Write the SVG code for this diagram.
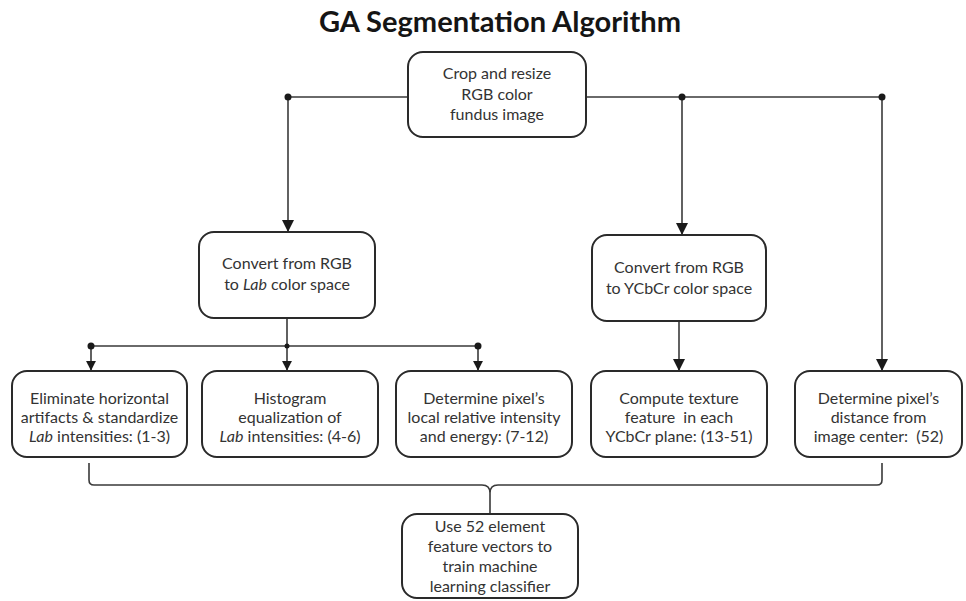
<svg xmlns="http://www.w3.org/2000/svg" width="966" height="601" viewBox="0 0 966 601">
<style>
.box{fill:#fff;stroke:#2a2a2a;stroke-width:2}
.t{font-family:Lato,"Open Sans","Liberation Sans",sans-serif;font-size:16px;fill:#333;text-anchor:middle}
.title{font-family:Lato,"Open Sans","Liberation Sans",sans-serif;font-size:28px;font-weight:bold;fill:#151515;text-anchor:middle}
.ln{fill:none;stroke:#3a3a3a;stroke-width:1.6}
.dot{fill:#1a1a1a}
</style>
<defs>
<marker id="arr" viewBox="0 0 12 12" refX="11" refY="6" markerWidth="12" markerHeight="12" markerUnits="userSpaceOnUse" orient="auto">
<path d="M0,0 L12,6 L0,12 Z" fill="#1a1a1a"/>
</marker>
<marker id="arrs" viewBox="0 0 12 12" refX="11" refY="6" markerWidth="10" markerHeight="11" markerUnits="userSpaceOnUse" orient="auto">
<path d="M0,0 L12,6 L0,12 Z" fill="#1a1a1a"/>
</marker>
</defs>
<text class="title" x="500" y="32" textLength="362" lengthAdjust="spacingAndGlyphs">GA Segmentation Algorithm</text>
<g id="connectors">
<path class="ln" d="M288,97 H408 M586,97 H882"/>
<path class="ln" d="M288,97 V231" marker-end="url(#arr)"/>
<path class="ln" d="M682,97 V234" marker-end="url(#arr)"/>
<path class="ln" d="M882,97 V370" marker-end="url(#arr)"/>
<circle class="dot" cx="288" cy="97" r="3.5"/>
<circle class="dot" cx="682" cy="97" r="3.5"/>
<circle class="dot" cx="882" cy="97" r="3.5"/>
<path class="ln" d="M287,318 V346 M91,346 H478"/>
<path class="ln" d="M91,346 V370" marker-end="url(#arrs)"/>
<path class="ln" d="M287,346 V370" marker-end="url(#arrs)"/>
<path class="ln" d="M478,346 V370" marker-end="url(#arrs)"/>
<circle class="dot" cx="91" cy="346" r="3.5"/>
<circle class="dot" cx="287" cy="346" r="2.5"/>
<circle class="dot" cx="478" cy="346" r="3.5"/>
<path class="ln" d="M679,321 V370" marker-end="url(#arr)"/>
<path class="ln" d="M89,463 V480 Q89,485 94,485 H482 Q490,485 490,493 M882,463 V480 Q882,485 877,485 H498 Q490,485 490,493 V514"/>
</g>
<g id="crop">
<rect class="box" x="408" y="52" width="178" height="85" rx="15"/>
<text class="t" x="497" y="79">Crop and resize</text>
<text class="t" x="497" y="100">RGB color</text>
<text class="t" x="497" y="120">fundus image</text>
</g>
<g id="lab">
<rect class="box" x="199" y="232" width="176" height="86" rx="15"/>
<text class="t" x="287" y="269">Convert from RGB</text>
<text class="t" x="287" y="290">to <tspan font-style="italic">Lab</tspan> color space</text>
</g>
<g id="ycbcr">
<rect class="box" x="592" y="235" width="174" height="86" rx="15"/>
<text class="t" x="679" y="273">Convert from RGB</text>
<text class="t" x="679" y="294">to YCbCr color space</text>
</g>
<g id="eliminate">
<rect class="box" x="12" y="371" width="175" height="86" rx="15"/>
<text class="t" x="99.5" y="404">Eliminate horizontal</text>
<text class="t" x="99.5" y="423">artifacts &amp; standardize</text>
<text class="t" x="99.5" y="442"><tspan font-style="italic">Lab</tspan> intensities: (1-3)</text>
</g>
<g id="histogram">
<rect class="box" x="202" y="371" width="176" height="86" rx="15"/>
<text class="t" x="290" y="404">Histogram</text>
<text class="t" x="290" y="423">equalization of</text>
<text class="t" x="290" y="442"><tspan font-style="italic">Lab</tspan> intensities: (4-6)</text>
</g>
<g id="local">
<rect class="box" x="396" y="371" width="176" height="86" rx="15"/>
<text class="t" x="484" y="404">Determine pixel’s</text>
<text class="t" x="484" y="423">local relative intensity</text>
<text class="t" x="484" y="442">and energy: (7-12)</text>
</g>
<g id="texture">
<rect class="box" x="591" y="371" width="176" height="86" rx="15"/>
<text class="t" x="679" y="404">Compute texture</text>
<text class="t" x="679" y="423" xml:space="preserve">feature  in each</text>
<text class="t" x="679" y="442">YCbCr plane: (13-51)</text>
</g>
<g id="distance">
<rect class="box" x="795" y="371" width="167" height="86" rx="15"/>
<text class="t" x="878.5" y="404">Determine pixel’s</text>
<text class="t" x="878.5" y="423">distance from</text>
<text class="t" x="878.5" y="442" xml:space="preserve">image center:  (52)</text>
</g>
<g id="classifier">
<rect class="box" x="402" y="514" width="176" height="84" rx="15"/>
<text class="t" x="490" y="532">Use 52 element</text>
<text class="t" x="490" y="552">feature vectors to</text>
<text class="t" x="490" y="572">train machine</text>
<text class="t" x="490" y="592">learning classifier</text>
</g>
</svg>
